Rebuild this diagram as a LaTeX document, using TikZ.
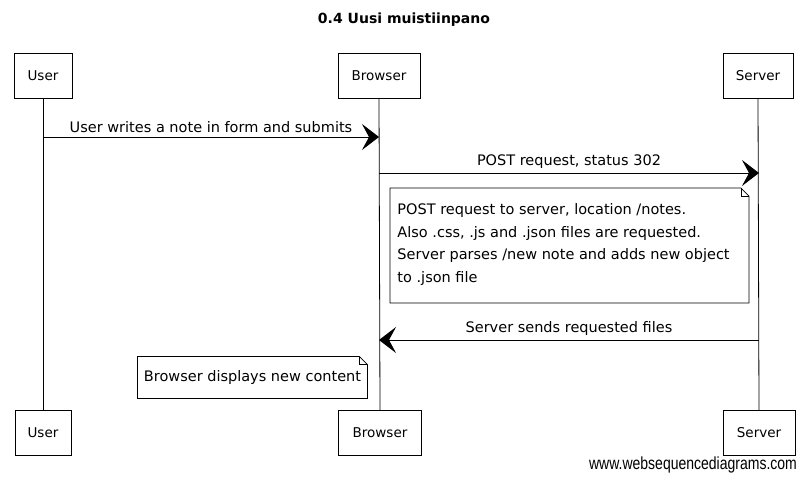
\documentclass[tikz,border=0pt]{standalone}
\usepackage{fontspec}
\setmainfont{DejaVu Sans}
\newfontfamily\wmfont{Liberation Sans}
\usetikzlibrary{arrows.meta}
\begin{document}
\begin{tikzpicture}[x=1pt,y=-1pt,
  line width=0.9pt,
  actor/.style={draw,minimum height=45pt,inner sep=0pt,font=\fontsize{13.5}{15}\selectfont},
  lifeline/.style={draw,line width=0.8pt},
  msg/.style={draw,-{Stealth[length=17pt,width=26pt,inset=7pt]}},
  msglabel/.style={above=4pt,midway,font=\fontsize{14.5}{16}\selectfont,inner sep=0pt},
  notetext/.style={inner sep=0pt,font=\fontsize{14.5}{22.7}\selectfont,align=left},
  notebox/.style={inner sep=0pt},
  noteline/.style={draw,line width=0.8pt}
]
\useasboundingbox (0,0) rectangle (808,480);

% title
\node[font=\fontsize{14}{16}\selectfont\bfseries] (title) at (404,20) {0.4 Uusi muistiinpano};

% actors
\node[actor,minimum width=58pt] (Ut) at (43,75.5) {User};
\node[actor,minimum width=82pt] (Bt) at (379,75.5) {Browser};
\node[actor,minimum width=70pt] (St) at (758,75.5) {Server};
\node[actor,minimum width=56pt] (Ub) at (43,433) {User};
\node[actor,minimum width=83pt] (Bb) at (380,433) {Browser};
\node[actor,minimum width=72pt] (Sb) at (759,433) {Server};

% lifelines
\draw[lifeline] (Ut.south) -- (Ub.north);
\draw[lifeline] (Bt.south) -- (Bb.north);
\draw[lifeline] (St.south) -- (Sb.north);

% message anchors
\coordinate (m1a) at (43,137);
\coordinate (m1b) at (379,137);
\coordinate (m2a) at (379,173);
\coordinate (m2b) at (759,173);
\coordinate (m3a) at (759,340);
\coordinate (m3b) at (379,340);

\draw[msg] (m1a) -- node[msglabel] {User writes a note in form and submits} (m1b);
\draw[msg] (m2a) -- node[msglabel] {POST request, status 302} (m2b);
\draw[msg] (m3a) -- node[msglabel] {Server sends requested files} (m3b);

% note 1
\node[notebox,anchor=north west,minimum width=358pt,minimum height=114pt] (n1) at (390,188) {};
\fill[white] (n1.north west) rectangle (n1.south east);
\draw[noteline] (n1.north west) -- ([xshift=-8pt]n1.north east) -- ([yshift=-8pt]n1.north east) -- (n1.south east) -- (n1.south west) -- cycle;
\draw[line width=0.6pt] ([xshift=-8pt]n1.north east) -- ([xshift=-8pt,yshift=-8pt]n1.north east) -- ([yshift=-8pt]n1.north east);
\node[notetext,anchor=west] (n1t) at ([xshift=7pt,yshift=1pt]n1.west)
 {POST request to server, location /notes.\\Also .css, .js and .json files are requested.\\Server parses /new note and adds new object\\to .json file};

% note 2
\node[notebox,minimum width=229pt,minimum height=41pt] (n2) at (252.5,377.5) {};
\fill[white] (n2.north west) rectangle (n2.south east);
\draw[noteline] (n2.north west) -- ([xshift=-8pt]n2.north east) -- ([yshift=-8pt]n2.north east) -- (n2.south east) -- (n2.south west) -- cycle;
\draw[line width=0.6pt] ([xshift=-8pt]n2.north east) -- ([xshift=-8pt,yshift=-8pt]n2.north east) -- ([yshift=-8pt]n2.north east);
\node[notetext] (n2t) at (n2.center) {Browser displays new content};

% watermark
\node (wm) at (693,465) {\scalebox{0.8}[1]{\wmfont\fontsize{17.5}{20}\selectfont www.websequencediagrams.com}};
\end{tikzpicture}
\end{document}
